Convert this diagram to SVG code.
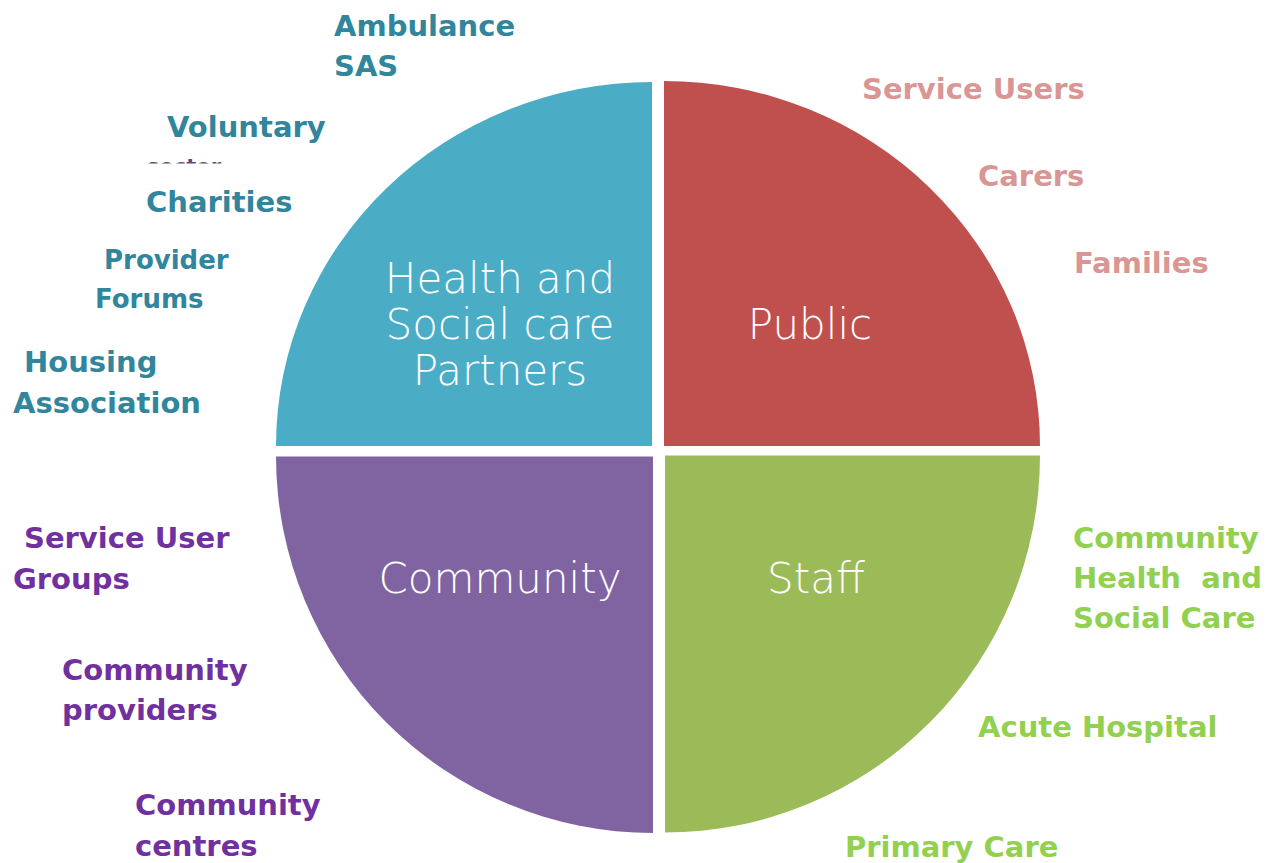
<svg xmlns="http://www.w3.org/2000/svg" width="1280" height="863" viewBox="0 0 1280 863">
  <style>
    .quad-label { font-family: "DejaVu Sans", Verdana, sans-serif; font-weight: 200; font-size: 42px; fill: #ffffff; text-anchor: middle; }
    .lbl { font-family: "DejaVu Sans", Verdana, sans-serif; font-weight: bold; font-size: 29px; white-space: pre; }
    .small { font-size: 26px; }
    .tiny { font-size: 21px; }
    .blue { fill: #31859C; }
    .red { fill: #D99694; }
    .purple { fill: #7030A0; }
    .green { fill: #92D050; }
  </style>
  <defs>
    <clipPath id="sectorClip">
      <rect x="130" y="150" width="120" height="13.5"/>
    </clipPath>
  </defs>
  <rect width="1280" height="863" fill="#ffffff"/>

  <!-- Health and Social care Partners quadrant -->
  <g id="partners">
    <path d="M652,446 L276,446 A376,364 0 0 1 652,82 Z" fill="#4BACC6"/>
    <text class="quad-label" x="500" y="293">Health and</text>
    <text class="quad-label" x="500" y="339">Social care</text>
    <text class="quad-label" x="500" y="385">Partners</text>
  </g>

  <!-- Public quadrant -->
  <g id="public">
    <path d="M664,446 L664,81 A376,365 0 0 1 1040,446 Z" fill="#C0504D"/>
    <text class="quad-label" x="810" y="339">Public</text>
  </g>

  <!-- Community quadrant -->
  <g id="community">
    <path d="M653,456.5 L653,833 A377,377 0 0 1 276,456.5 Z" fill="#8064A2"/>
    <text class="quad-label" x="500" y="593">Community</text>
  </g>

  <!-- Staff quadrant -->
  <g id="staff">
    <path d="M665,455.5 L1040,455.5 A375,377 0 0 1 665,832.5 Z" fill="#9BBB59"/>
    <text class="quad-label" x="816" y="593">Staff</text>
  </g>

  <!-- Partner organisations -->
  <g id="partner-labels">
    <text class="lbl blue" x="334" y="36">Ambulance</text>
    <text class="lbl blue" x="334" y="76">SAS</text>
    <text class="lbl blue" x="167" y="137">Voluntary</text>
    <text class="lbl tiny" x="147" y="174" fill="#5F497A" clip-path="url(#sectorClip)">sector</text>
    <text class="lbl blue" x="146" y="212">Charities</text>
    <text class="lbl blue small" x="104" y="269">Provider</text>
    <text class="lbl blue small" x="95" y="308">Forums</text>
    <text class="lbl blue" x="24" y="372">Housing</text>
    <text class="lbl blue" x="13" y="413">Association</text>
  </g>

  <!-- Public groups -->
  <g id="public-labels">
    <text class="lbl red" x="862" y="99">Service Users</text>
    <text class="lbl red" x="978" y="186">Carers</text>
    <text class="lbl red" x="1074" y="273">Families</text>
  </g>

  <!-- Community groups -->
  <g id="community-labels">
    <text class="lbl purple" x="24" y="548">Service User</text>
    <text class="lbl purple" x="13" y="589">Groups</text>
    <text class="lbl purple" x="62" y="680">Community</text>
    <text class="lbl purple" x="62" y="720">providers</text>
    <text class="lbl purple" x="135" y="815">Community</text>
    <text class="lbl purple" x="135" y="856">centres</text>
  </g>

  <!-- Staff settings -->
  <g id="staff-labels">
    <text class="lbl green" x="1073" y="548">Community</text>
    <text class="lbl green" x="1073" y="588">Health  and</text>
    <text class="lbl green" x="1073" y="628">Social Care</text>
    <text class="lbl green" x="978" y="737">Acute Hospital</text>
    <text class="lbl green" x="845" y="857">Primary Care</text>
  </g>
</svg>
